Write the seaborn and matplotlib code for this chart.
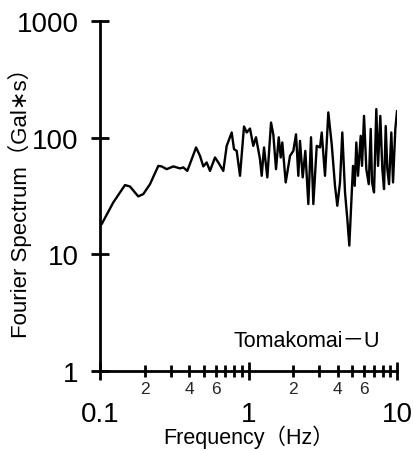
import seaborn as sns
import pandas as pd
import matplotlib
matplotlib.use("Agg")
import matplotlib.pyplot as plt
from matplotlib.ticker import FixedLocator, FixedFormatter, NullLocator

# Frecuencias (Hz) y amplitud del espectro de Fourier (Gal*s)
freq = [0.1027, 0.1229, 0.1474, 0.1592, 0.1810, 0.1957, 0.2171, 0.2470, 0.2603, 0.2813,
        0.3116, 0.3457, 0.3638, 0.3871, 0.4146, 0.4435, 0.4713, 0.4962, 0.5230, 0.5504,
        0.5949, 0.6262, 0.6766, 0.7131, 0.7706, 0.7985, 0.8326, 0.8766, 0.9327, 0.9726,
        1.0235, 1.077, 1.123, 1.195, 1.227, 1.272, 1.339, 1.418, 1.469, 1.532,
        1.598, 1.648, 1.689, 1.780, 1.904, 2.003, 2.089, 2.165, 2.222, 2.317,
        2.413, 2.528, 2.636, 2.732, 2.880, 3.031, 3.111, 3.274, 3.446, 3.633,
        3.823, 3.962, 4.132, 4.281, 4.465, 4.627, 4.772,
        5.054, 5.190, 5.320, 5.462, 5.695, 5.812, 5.995, 6.213, 6.449, 6.651,
        6.786, 7.000, 7.254, 7.449, 7.718, 7.962, 8.175, 8.392, 8.604, 8.833,
        9.154, 9.399, 9.740, 10.0]
amp = [18.2, 27.9, 39.3, 38.2, 31.4, 32.9, 40.0, 57.4, 56.8, 53.8,
       56.8, 54.6, 55.7, 52.0, 65.5, 82.6, 70.0, 56.8, 61.4, 52.0,
       67.8, 61.4, 52.0, 85.2, 111, 79.9, 77.2, 47.2, 125, 111,
       120, 85.2, 101, 65.5, 47.2, 82.6, 45.7, 135, 107, 53.8,
       101, 67.8, 91.1, 41.4, 70.0, 77.2, 107, 47.2, 94.1, 45.7,
       77.2, 27.0, 101, 27.0, 85.2, 82.6, 111, 47.2, 165, 88.1,
       38.7, 26.1, 41.4, 111, 34.0, 20.1, 11.9,
       57.4, 38.7, 91.1, 47.2, 104, 57.4, 154, 53.8, 40.0, 119,
       41.4, 34.0, 176, 57.4, 154, 53.8, 36.3, 126, 53.8, 40.0,
       111, 41.4, 119, 170]

major_x = [0.1, 1, 10]
major_x_labels = ["0.1", "1", "10"]
minor_x = [0.2, 0.3, 0.4, 0.5, 0.6, 0.7, 0.8, 0.9, 2, 3, 4, 5, 6, 7, 8, 9]
minor_x_labels = ["2", "", "4", "", "6", "", "", "", "2", "", "4", "", "6", "", "", ""]
major_y = [1, 10, 100, 1000]
major_y_labels = ["1", "10", "100", "1000"]
station = "Tomakomai\uff0dU"

df = pd.DataFrame({"Frequency": freq, "Amplitude": amp})

sns.set_theme(style="ticks")
plt.rcParams["font.family"] = ["Liberation Sans", "Noto Sans CJK JP", "DejaVu Sans"]

fig = plt.figure(figsize=(4.14, 4.52), dpi=100)
ax = fig.add_axes([0.2415, 0.177, 0.7175, 0.774])
sns.lineplot(x="Frequency", y="Amplitude", data=df, color="black", linewidth=1.7, ax=ax)

ax.set_xscale("log")
ax.set_yscale("log")
ax.set_xlim(0.1, 10)
ax.set_ylim(1, 1000)

ax.xaxis.set_major_locator(FixedLocator(major_x))
ax.xaxis.set_major_formatter(FixedFormatter(major_x_labels))
ax.xaxis.set_minor_locator(FixedLocator(minor_x))
ax.xaxis.set_minor_formatter(FixedFormatter(minor_x_labels))
ax.yaxis.set_major_locator(FixedLocator(major_y))
ax.yaxis.set_major_formatter(FixedFormatter(major_y_labels))
ax.yaxis.set_minor_locator(NullLocator())

ax.tick_params(axis="both", which="major", direction="inout", length=13, width=2,
               color="black", labelsize=20, labelcolor="black")
ax.tick_params(axis="x", which="major", pad=15)
ax.tick_params(axis="y", which="major", pad=9)
ax.tick_params(axis="x", which="minor", direction="inout", length=9, width=2,
               color="black", labelsize=12.5, pad=3)

sns.despine(ax=ax)
for s in ["left", "bottom"]:
    ax.spines[s].set_linewidth(2)
    ax.spines[s].set_color("black")

ax.set_xlabel("Frequency\uff08Hz\uff09", fontsize=15.5, color="black")
ax.set_ylabel("Fourier Spectrum\uff08Gal\u2217s\uff09", fontsize=16, color="black")
ax.xaxis.set_label_coords(0.5, -0.153)
ax.yaxis.set_label_coords(-0.23, 0.5)

ax.text(0.943, 0.086, station, transform=ax.transAxes, ha="right", va="center",
        fontsize=15.5, color="black")

fig.savefig("out.png", dpi=100)
